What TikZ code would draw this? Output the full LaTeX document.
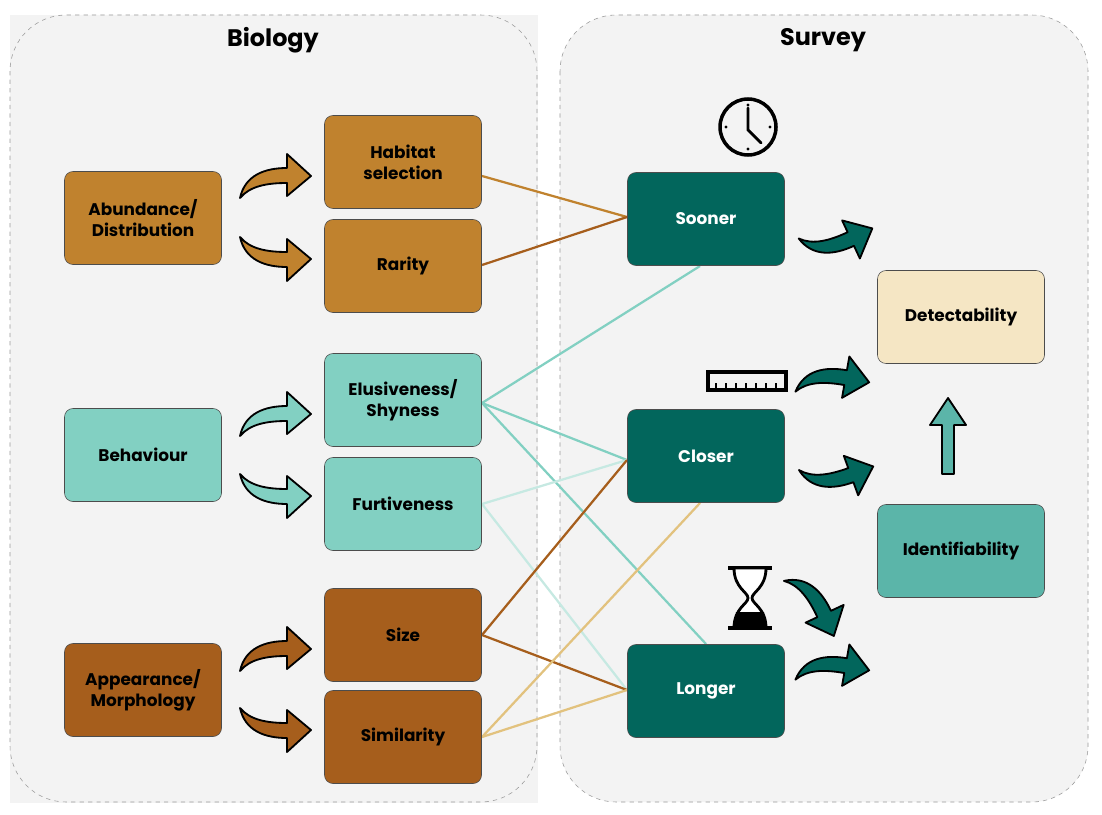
\documentclass[tikz,border=0pt]{standalone}
\usepackage{fontspec}
\setmainfont{Poppins}
\definecolor{brownL}{HTML}{C0822E}
\definecolor{brownD}{HTML}{A65E1C}
\definecolor{tealL}{HTML}{82D0C2}
\definecolor{tealM}{HTML}{5BB5A9}
\definecolor{tealD}{HTML}{02665C}
\definecolor{cream}{HTML}{F5E6C4}
\definecolor{panel}{HTML}{F3F3F3}
\definecolor{tan}{HTML}{E2C27E}
\definecolor{tealP}{HTML}{C6E9E2}

\tikzset{
  box/.style={draw=black!70,rounded corners=6pt,minimum width=157*0.025cm,minimum height=93*0.025cm,align=center,font=\fontsize{12}{15}\selectfont\bfseries},
  link/.style={line width=1.6pt},
  pics/curvarrow/.style={code={
    \filldraw[fill=#1,draw=black,line width=1.3pt,line join=round]
      (-35,18) .. controls (-30,-5) and (-10,-12) .. (12,-12) -- (12,-26) -- (36,-4)
      -- (12,16) -- (12,3) .. controls (-8,3) and (-25,6) .. cycle;
  }}
}

\begin{document}
\begin{tikzpicture}[x=0.025cm,y=-0.025cm]
    \fill[white] (0,0) rectangle (1102,814);
    % panels
    \draw[panel,fill=panel] (10,15) rectangle (537,802);
    \draw[black!40,dashed,fill=panel,rounded corners=40pt] (10,15) rectangle (537,802);
    \draw[black!40,dashed,fill=panel,rounded corners=40pt] (560,15) rectangle (1088,802);
    \node[font=\fontsize{17}{20}\selectfont\bfseries] (bio) at (273,40) {Biology};
    \node[font=\fontsize{17}{20}\selectfont\bfseries] (sur) at (823,40) {Survey};

    % links (behind the boxes)
    \coordinate (hab) at (482,176);
    \coordinate (rar) at (482,265);
    \coordinate (elu) at (482,403);
    \coordinate (fur) at (482,504);
    \coordinate (siz) at (482,635);
    \coordinate (sim) at (482,737);
    \coordinate (soonW) at (627,217);
    \coordinate (soonS) at (700,266);
    \coordinate (closW) at (627,460);
    \coordinate (closS) at (700,503);
    \coordinate (longW) at (627,690);
    \coordinate (longN) at (706,644);
    \draw[link,brownL] (hab) -- (soonW);
    \draw[link,brownD] (rar) -- (soonW);
    \draw[link,tealL] (elu) -- (soonS);
    \draw[link,tealL] (elu) -- (closW);
    \draw[link,tealL] (elu) -- (longN);
    \draw[link,tealP] (fur) -- (closW);
    \draw[link,tealP] (fur) -- (longW);
    \draw[link,brownD] (siz) -- (closW);
    \draw[link,brownD] (siz) -- (longW);
    \draw[link,tan] (sim) -- (closS);
    \draw[link,tan] (sim) -- (longW);

    % boxes
    \node[box,fill=brownL] (abund) at (143,218) {Abundance/\\Distribution};
    \node[box,fill=brownL] (habitat) at (403,162) {Habitat\\selection};
    \node[box,fill=brownL] (rarity) at (403,266) {Rarity};
    \node[box,fill=tealL] (behav) at (143,455) {Behaviour};
    \node[box,fill=tealL] (elusive) at (403,400) {Elusiveness/\\Shyness};
    \node[box,fill=tealL] (furtive) at (403,504) {Furtiveness};
    \node[box,fill=brownD] (appear) at (143,690) {Appearance/\\Morphology};
    \node[box,fill=brownD] (size) at (403,635) {Size};
    \node[box,fill=brownD] (simil) at (403,737) {Similarity};
    \node[box,fill=tealD,text=white] (sooner) at (706,219) {Sooner};
    \node[box,fill=tealD,text=white] (closer) at (706,456) {Closer};
    \node[box,fill=tealD,text=white] (longer) at (706,691) {Longer};
    \node[box,fill=cream,minimum width=167*0.025cm] (detect) at (961,317) {Detectability};
    \node[box,fill=tealM,minimum width=167*0.025cm] (ident) at (961,551) {Identifiability};

    % curved arrows
    \pic at (275,180) {curvarrow=brownL};
    \pic[yscale=-1] at (275,255) {curvarrow=brownL};
    \pic at (275,418) {curvarrow=tealL};
    \pic[yscale=-1] at (275,492) {curvarrow=tealL};
    \pic at (275,653) {curvarrow=brownD};
    \pic[yscale=-1] at (275,726) {curvarrow=brownD};
    \pic[yscale=-1,rotate=-25] at (838,240) {curvarrow=tealD};
    \pic[rotate=-10] at (833,380) {curvarrow=tealD};
    \pic[yscale=-1,rotate=-20] at (838,475) {curvarrow=tealD};
    \pic[rotate=-65] at (815,605) {curvarrow=tealD};
    \pic[rotate=-10] at (833,668) {curvarrow=tealD};
    % straight arrow up
    \filldraw[fill=tealM,draw=black,line width=1.3pt,line join=round]
      (942,474) -- (942,425) -- (930,425) -- (948,398) -- (966,425) -- (954,425) -- (954,474) -- cycle;

    % clock
    \draw[line width=2.5pt] (748,127) circle (28);
    \draw[line width=2pt,line cap=round] (748,108) -- (748,130) -- (761,143);
    \foreach \a in {0,90,180,270}
      \fill (748,127) ++(\a:22) circle (1.6);
    % ruler
    \draw[line width=2.5pt] (708,372) rectangle (786,390);
    \foreach \i in {0,...,6}
      \draw[line width=1.3pt] (716+\i*10,390) -- (716+\i*10,383);
    % hourglass
    \draw[line width=2.5pt] (728,568) -- (772,568);
    \draw[line width=2.5pt] (728,628) -- (772,628);
    \filldraw[line width=2pt,fill=white] (734,568) .. controls (734,588) and (748,592) .. (748,598)
      .. controls (748,604) and (734,608) .. (734,628) -- (766,628)
      .. controls (766,608) and (752,604) .. (752,598)
      .. controls (752,592) and (766,588) .. (766,568) -- cycle;
    \fill (736,612) -- (764,612) -- (766,628) -- (734,628) -- cycle;
\end{tikzpicture}
\end{document}
